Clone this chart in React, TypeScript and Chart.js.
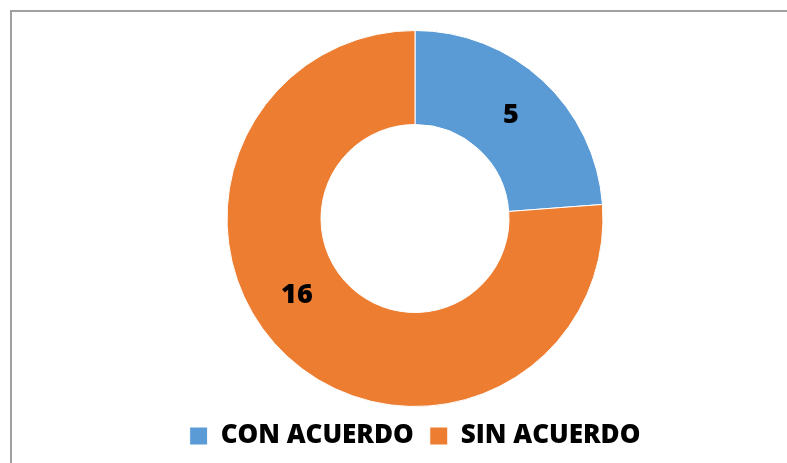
import React, { useEffect, useRef } from "react";
import { Chart, registerables } from "chart.js";

Chart.register(...registerables);

const categories = ["CON ACUERDO", "SIN ACUERDO"];
const values = [5, 16];
const colors = ["#5B9BD5", "#ED7D31"];
// extra angular shift (degrees) of each value label from the slice's mid angle
const labelAngleShift = [0, 14];

const FONT = "'Open Sans', Lato, 'Liberation Sans', sans-serif";

const valueLabels = {
  id: "valueLabels",
  afterDatasetsDraw(chart: any) {
    const ctx = chart.ctx;
    const meta = chart.getDatasetMeta(0);
    ctx.save();
    ctx.font = `800 27px ${FONT}`;
    ctx.fillStyle = "#000";
    ctx.textAlign = "center";
    ctx.textBaseline = "middle";
    meta.data.forEach((arc: any, i: number) => {
      const p = arc.getProps(["x", "y", "startAngle", "endAngle", "innerRadius", "outerRadius"], true);
      const mid = (p.startAngle + p.endAngle) / 2 + (labelAngleShift[i] * Math.PI) / 180;
      const r = (p.innerRadius + p.outerRadius) / 2;
      ctx.fillText(String(values[i]), p.x + Math.cos(mid) * r, p.y + Math.sin(mid) * r);
    });
    ctx.restore();
  },
};

export default function App() {
  const ref = useRef<HTMLCanvasElement | null>(null);
  useEffect(() => {
    if (!ref.current) return;
    const chart = new Chart(ref.current, {
      type: "doughnut",
      data: {
        labels: categories,
        datasets: [
          {
            data: values,
            backgroundColor: colors,
            borderColor: "#ffffff",
            borderWidth: 1,
          },
        ],
      },
      options: {
        responsive: false,
        animation: false,
        cutout: "50%",
        layout: { padding: { top: 30, left: 43, right: 0, bottom: 4 } },
        plugins: {
          legend: {
            position: "bottom",
            labels: {
              boxWidth: 18,
              boxHeight: 18,
              padding: 16,
              color: "#000",
              font: { family: FONT, size: 26, weight: 800 },
            },
          },
          tooltip: { enabled: false },
        },
      },
      plugins: [valueLabels],
    });
    return () => chart.destroy();
  }, []);

  return (
    <div style={{ position: "absolute", left: 0, top: 0, width: 787, height: 463, background: "#fff", overflow: "hidden" }}>
      <div
        style={{
          position: "absolute",
          left: 10,
          top: 10,
          width: 800,
          height: 500,
          borderLeft: "2px solid #a0a0a0",
          borderTop: "2px solid #a0a0a0",
        }}
      />
      <canvas ref={ref} width={787} height={463} style={{ position: "absolute", left: 0, top: 0 }} />
    </div>
  );
}
